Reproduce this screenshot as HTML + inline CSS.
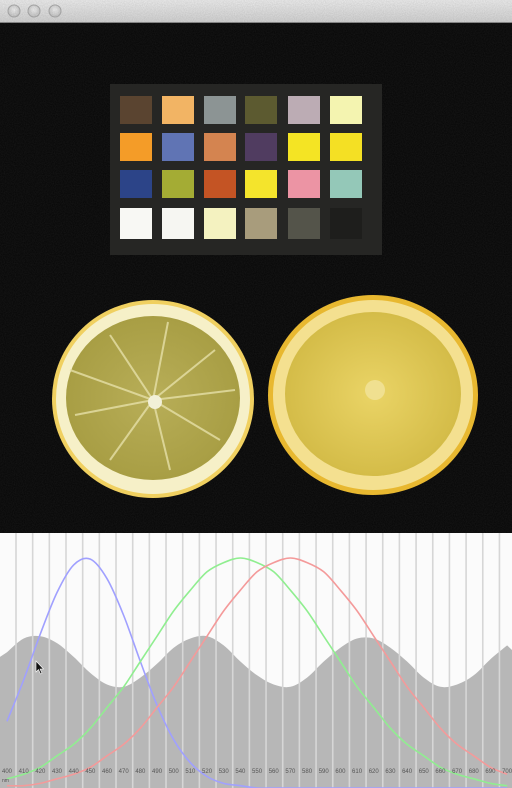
<!DOCTYPE html>
<html><head><meta charset="utf-8"><style>
html,body{margin:0;padding:0;background:#000;width:512px;height:788px;overflow:hidden}
svg{display:block}
text{font-family:"Liberation Sans",sans-serif}
</style></head><body>
<svg id="root" width="512" height="788" viewBox="0 0 512 788">
<defs>
<linearGradient id="tb" x1="0" y1="0" x2="0" y2="1"><stop offset="0" stop-color="#f0f0f0"/><stop offset="1" stop-color="#d4d4d4"/></linearGradient>
<radialGradient id="btn" cx="0.5" cy="0.4" r="0.6"><stop offset="0" stop-color="#f4f4f4"/><stop offset="1" stop-color="#c4c4c4"/></radialGradient>
<filter id="noise"><feTurbulence type="fractalNoise" baseFrequency="0.9" numOctaves="2" seed="3"/><feColorMatrix values="0 0 0 0 0.1  0 0 0 0 0.1  0 0 0 0 0.1  0 0 0 0.22 0"/></filter>
<radialGradient id="lflesh" cx="0.5" cy="0.5" r="0.5"><stop offset="0" stop-color="#b8ae58"/><stop offset="1" stop-color="#a89e44"/></radialGradient>
<radialGradient id="rflesh" cx="0.5" cy="0.5" r="0.5"><stop offset="0" stop-color="#ead466"/><stop offset="1" stop-color="#d4bc48"/></radialGradient>
</defs>
<g>
<rect x="0" y="0" width="512" height="23" fill="url(#tb)"/>
<line x1="0" y1="22.5" x2="512" y2="22.5" stroke="#888"/>
<circle cx="14" cy="11" r="6" fill="url(#btn)" stroke="#aaa"/>
<circle cx="34" cy="11" r="6" fill="url(#btn)" stroke="#aaa"/>
<circle cx="55" cy="11" r="6" fill="url(#btn)" stroke="#aaa"/>
</g>
<g>
<rect x="0" y="23" width="512" height="510" fill="#050505"/>
<rect x="0" y="23" width="512" height="510" filter="url(#noise)"/>
<g>
<rect x="110" y="84" width="272" height="171" fill="#262624"/>
<g id="patches"></g>
</g>
<g>
<ellipse cx="153" cy="399" rx="101" ry="99" fill="#f0d060"/>
<ellipse cx="153" cy="399" rx="97" ry="95" fill="#f6f0c8"/>
<ellipse cx="153" cy="398" rx="87" ry="82" fill="url(#lflesh)"/>
<g stroke="#e6e0a8" stroke-width="2" opacity="0.8">
<line x1="153" y1="400" x2="110" y2="335"/><line x1="153" y1="400" x2="168" y2="322"/><line x1="153" y1="400" x2="215" y2="350"/>
<line x1="153" y1="400" x2="235" y2="390"/><line x1="153" y1="400" x2="220" y2="440"/><line x1="153" y1="400" x2="170" y2="470"/>
<line x1="153" y1="400" x2="110" y2="460"/><line x1="153" y1="400" x2="75" y2="415"/><line x1="153" y1="400" x2="70" y2="370"/>
</g>
<circle cx="155" cy="402" r="7" fill="#f2f0d8"/>
</g>
<g>
<ellipse cx="373" cy="395" rx="105" ry="100" fill="#e8b830"/>
<ellipse cx="373" cy="395" rx="100" ry="95" fill="#f4e090"/>
<ellipse cx="373" cy="394" rx="88" ry="82" fill="url(#rflesh)"/>
<circle cx="375" cy="390" r="10" fill="#f0e090"/>
</g>
</g>
<g id="chart">
<rect x="0" y="533" width="512" height="255" fill="#fbfbfb"/>
</g>
</svg>
<script>
const NS="http://www.w3.org/2000/svg";
const patchColors=[
["#5a4430","#f2b464","#8c9494","#5c5a30","#bcacb4","#f4f4b0"],
["#f49c28","#6074b4","#d48450","#503c60","#f4e424","#f4e024"],
["#2c4488","#a4ac34","#c45424","#f4e42c","#ec94a4","#94c8b8"],
["#f8f8f4","#f6f6f2","#f4f2c0","#a89c7c","#54544a","#1e1e1c"]];
const colX=[120,162,204,245,288,330], rowY=[96,133,170,208];
const pg=document.getElementById('patches');
patchColors.forEach((row,r)=>row.forEach((c,k)=>{
 const e=document.createElementNS(NS,'rect');
 e.setAttribute('x',colX[k]);e.setAttribute('y',rowY[r]);e.setAttribute('width',32);e.setAttribute('height',r===3?31:28);e.setAttribute('fill',c);
 
 
 pg.appendChild(e);
}));

const wavelengths=[400,410,420,430,440,450,460,470,480,490,500,510,520,530,540,550,560,570,580,590,600,610,620,630,640,650,660,670,680,690,700];
const grayValues=[0.59,0.65,0.66,0.63,0.57,0.50,0.45,0.44,0.48,0.54,0.61,0.65,0.66,0.62,0.55,0.49,0.45,0.44,0.48,0.55,0.61,0.65,0.65,0.61,0.55,0.48,0.44,0.45,0.49,0.56,0.62];
const blueValues=[0.29,0.47,0.67,0.85,0.97,0.995,0.91,0.75,0.55,0.36,0.21,0.11,0.05,0.02,0.01,0,0,0,0,0,0,0,0,0,0,0,0,0,0,0,0];
const greenValues=[0.04,0.06,0.09,0.14,0.19,0.26,0.35,0.44,0.55,0.66,0.77,0.86,0.94,0.98,1,0.98,0.94,0.86,0.77,0.66,0.55,0.44,0.35,0.26,0.19,0.14,0.09,0.06,0.04,0.02,0.01];
const redValues=[0.01,0.01,0.02,0.04,0.06,0.09,0.14,0.19,0.26,0.35,0.44,0.55,0.66,0.77,0.86,0.94,0.98,1,0.98,0.94,0.86,0.77,0.66,0.55,0.44,0.35,0.26,0.19,0.14,0.09,0.06];
const tickLabels=wavelengths.map(String);

const xS=nm=>7+(nm-400)*1.667;
const yS=v=>788-v*230;
const chart=document.getElementById('chart');
function mk(tag,attrs){const e=document.createElementNS(NS,tag);for(const k in attrs)e.setAttribute(k,attrs[k]);chart.appendChild(e);return e;}
function smooth(p,cont){
 let s=cont?` L${p[0][0]},${p[0][1]}`:`M${p[0][0]},${p[0][1]}`;
 for(let i=0;i<p.length-1;i++){
  const p0=p[Math.max(0,i-1)],p1=p[i],p2=p[i+1],p3=p[Math.min(p.length-1,i+2)];
  const c1=[p1[0]+(p2[0]-p0[0])/6,p1[1]+(p2[1]-p0[1])/6],c2=[p2[0]-(p3[0]-p1[0])/6,p2[1]-(p3[1]-p1[1])/6];
  s+=` C${c1[0]},${c1[1]} ${c2[0]},${c2[1]} ${p2[0]},${p2[1]}`;
 }
 return s;
}

let d=`M0,788 L0,${yS(grayValues[0]-0.02)}`;
const gpts=wavelengths.map((w,i)=>[xS(w),yS(grayValues[i])]);
d+=smooth(gpts,true)+` L512,${yS(0.60)} L512,788 Z`;
const area=mk('path',{d:d,fill:'#b7b7b7'});



for(let i=0;i<31;i++){
 const x=xS(wavelengths[0])+9+i*16.67;
 const ln=mk('line',{x1:x,y1:533,x2:x,y2:788,stroke:'#d6d6d6','stroke-width':1.6});
 
 
}

[[blueValues,'#a0a0ff','blue-response-curve'],[greenValues,'#90ee90','green-response-curve'],[redValues,'#f49a9a','red-response-curve']].forEach(([vals,col,name])=>{
 const p=wavelengths.map((w,i)=>[xS(w),yS(vals[i])]);
 const path=mk('path',{d:smooth(p,false),fill:'none',stroke:col,'stroke-width':1.6});
 
 
});

tickLabels.forEach((t,i)=>{
 const tx=mk('text',{x:xS(wavelengths[i]),y:773,'font-size':6,fill:'#555','text-anchor':'middle'});
 tx.textContent=t;
 
 
});
const nm=mk('text',{x:2,y:782,'font-size':5,fill:'#555'});nm.textContent='nm';



const cur=mk('path',{d:'M36,661 L36,672 L38.5,669.5 L40.5,674 L42,673.3 L40,669 L43.5,669 Z',fill:'#111',stroke:'#fff','stroke-width':0.6});


</script>
</body></html>
